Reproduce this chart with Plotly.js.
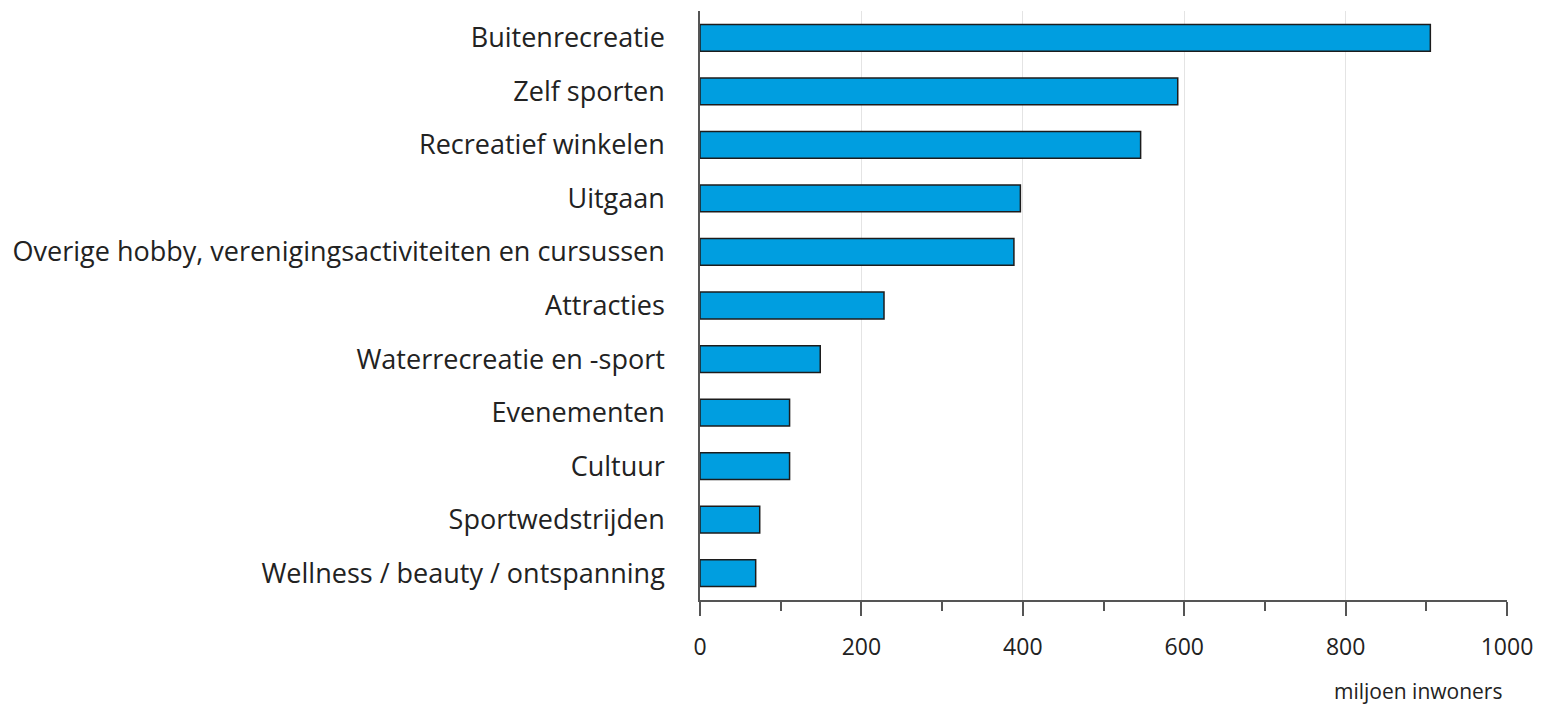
<!DOCTYPE html>
<html>
<head>
<meta charset="utf-8">
<script src="https://cdn.plot.ly/plotly-3.0.1.min.js"></script>
<style>html,body{margin:0;padding:0;background:#fff;}#chart{width:1544px;height:712px;}</style>
</head>
<body>
<div id="chart"></div>
<script>
const categories = [
  "Buitenrecreatie",
  "Zelf sporten",
  "Recreatief winkelen",
  "Uitgaan",
  "Overige hobby, verenigingsactiviteiten en cursussen",
  "Attracties",
  "Waterrecreatie en -sport",
  "Evenementen",
  "Cultuur",
  "Sportwedstrijden",
  "Wellness / beauty / ontspanning"
];
const values = [905, 592, 546, 397, 389, 228, 149, 111, 111, 74, 69];
const xTickValues = [0, 200, 400, 600, 800, 1000];
const xTickLabels = ["0", "200", "400", "600", "800", "1000"];
const unitLabel = "miljoen inwoners";

const FONT = "Open Sans, Noto Sans, sans-serif";

Plotly.newPlot("chart", [{
  type: "bar",
  orientation: "h",
  y: categories,
  x: values,
  marker: { color: "#009ee0", line: { color: "#1c1c1c", width: 1.5 } },
  hoverinfo: "x+y"
}], {
  width: 1544, height: 712,
  margin: { l: 700, r: 37, t: 11, b: 112 },
  paper_bgcolor: "#ffffff",
  plot_bgcolor: "#ffffff",
  showlegend: false,
  bargap: 0.5,
  xaxis: {
    range: [0, 1000],
    tickvals: xTickValues,
    ticktext: xTickLabels,
    ticks: "outside",
    ticklen: 14,
    tickwidth: 1.5,
    tickcolor: "#555",
    ticklabelstandoff: 12,
    showline: true,
    linecolor: "#555",
    linewidth: 1.5,
    showgrid: true,
    gridcolor: "#e4e4e4",
    gridwidth: 1.2,
    zeroline: false,
    tickfont: { family: FONT, size: 23, color: "#222" },
    minor: { dtick: 100, tick0: 0, ticks: "outside", ticklen: 9, tickcolor: "#555", tickwidth: 1.5, showgrid: false },
    fixedrange: true
  },
  yaxis: {
    autorange: "reversed",
    showline: true,
    linecolor: "#555",
    linewidth: 1.5,
    ticks: "",
    ticklabelstandoff: 28,
    showgrid: false,
    tickfont: { family: FONT, size: 27, color: "#222" },
    fixedrange: true
  },
  annotations: [{
    text: unitLabel,
    xref: "paper", yref: "paper",
    x: 0.996, y: -0.1545,
    xanchor: "right", yanchor: "middle",
    showarrow: false,
    font: { family: FONT, size: 21, color: "#222" }
  }]
}, { displayModeBar: false, staticPlot: false });
</script>
</body>
</html>
